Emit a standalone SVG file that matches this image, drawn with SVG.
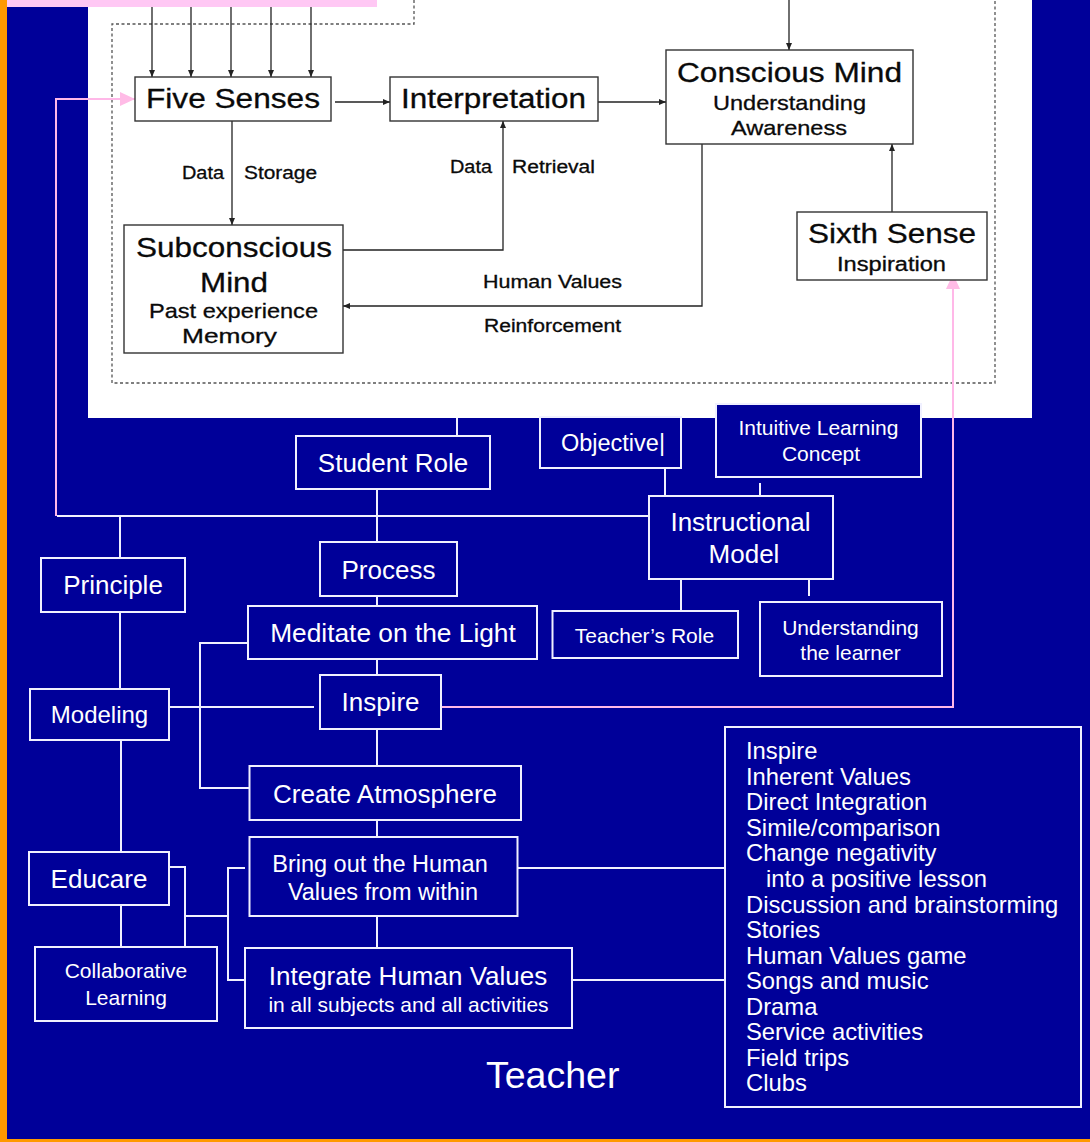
<svg xmlns="http://www.w3.org/2000/svg" width="1090" height="1142" viewBox="0 0 1090 1142">
<style>
.wbox{fill:#000099;stroke:#f0f0ff;stroke-width:2}
.wl{stroke:#f0f0ff;stroke-width:2;fill:none}
.pl{stroke:#ffb8e8;stroke-width:2;fill:none}
.bbox{fill:#fff;stroke:#333;stroke-width:1.4}
.bl{stroke:#222;stroke-width:1.3;fill:none}
.dash{stroke:#555;stroke-width:1.3;stroke-dasharray:3 2.5;fill:none}
.tw{fill:#fff;font-family:'Liberation Sans',Arial,sans-serif;text-anchor:middle}
.tb{fill:#0a0a0a;stroke:#0a0a0a;stroke-width:0.3;font-family:'Liberation Sans',Arial,sans-serif;text-anchor:middle}
.tl{fill:#fff;font-family:'Liberation Sans',Arial,sans-serif;font-size:23.8px}
</style>
<defs>
<marker id="ah" viewBox="0 0 7 6" refX="7" refY="3" markerWidth="7" markerHeight="6" markerUnits="userSpaceOnUse" orient="auto"><path d="M0,0 L7,3 L0,6 z" fill="#222"/></marker>
<marker id="ahp" viewBox="0 0 15 14" refX="15" refY="7" markerWidth="15" markerHeight="14" markerUnits="userSpaceOnUse" orient="auto"><path d="M0,0 L15,7 L0,14 z" fill="#ffbbe6"/></marker>
</defs>
<rect x="0" y="0" width="1090" height="1142" fill="#000099"/>
<rect x="0" y="0" width="7" height="1142" fill="#ff9900"/>
<rect x="0" y="1139" width="1090" height="3" fill="#ff9900"/>
<rect x="88" y="0" width="944" height="418" fill="#ffffff"/>
<path class="dash" d="M414,0 V24 H112 V383 H995 V0"/>

<g id="connectors">
<path class="bl" d="M152,0 V77" marker-end="url(#ah)"/>
<path class="bl" d="M191,0 V77" marker-end="url(#ah)"/>
<path class="bl" d="M231,0 V77" marker-end="url(#ah)"/>
<path class="bl" d="M271,0 V77" marker-end="url(#ah)"/>
<path class="bl" d="M311,0 V77" marker-end="url(#ah)"/>
<path class="bl" d="M789,0 V50" marker-end="url(#ah)"/>
<path class="bl" d="M335,102 H390" marker-end="url(#ah)"/>
<path class="bl" d="M598,102 H666" marker-end="url(#ah)"/>
<path class="bl" d="M232,121 V225" marker-end="url(#ah)"/>
<path class="bl" d="M343,250 H503 V121" marker-end="url(#ah)"/>
<path class="bl" d="M702,144 V306 H343" marker-end="url(#ah)"/>
<path class="bl" d="M892,212 V144" marker-end="url(#ah)"/>
<path class="pl" d="M56,516 V99 H135" marker-end="url(#ahp)"/>
<path class="pl" d="M441,707 H953 V274" marker-end="url(#ahp)"/>
<path class="wl" d="M457,418 V436"/>
<path class="wl" d="M57,516 H649"/>
<path class="wl" d="M377,489 V546"/>
<path class="wl" d="M665,468 V500"/>
<path class="wl" d="M760,483 V500"/>
<path class="wl" d="M681,579 V611"/>
<path class="wl" d="M809,579 V596"/>
<path class="wl" d="M120,516 V689"/>
<path class="wl" d="M377,596 V610"/>
<path class="wl" d="M377,659 V675"/>
<path class="wl" d="M169,707 H314"/>
<path class="wl" d="M248,643 H200 V788 H249"/>
<path class="wl" d="M377,723 V772"/>
<path class="wl" d="M377,820 V837"/>
<path class="wl" d="M377,916 V948"/>
<path class="wl" d="M121,740 V852"/>
<path class="wl" d="M121,899 V947"/>
<path class="wl" d="M169,867 H185 V947"/>
<path class="wl" d="M185,916 H228"/>
<path class="wl" d="M245,868 H228 V980 H245"/>
<path class="wl" d="M517,868 H725"/>
<path class="wl" d="M565,980 H725"/>
</g>

<rect x="7" y="0" width="370" height="7" fill="#ffc8f4"/>

<g id="five-senses"><rect class="bbox" x="135" y="77" width="196" height="44"/><text class="tb" x="233" y="108" font-size="27" textLength="174" lengthAdjust="spacingAndGlyphs">Five Senses</text></g>
<g id="interpretation"><rect class="bbox" x="390" y="77" width="208" height="44"/><text class="tb" x="493.5" y="108" font-size="27" textLength="185" lengthAdjust="spacingAndGlyphs">Interpretation</text></g>
<g id="conscious-mind"><rect class="bbox" x="666" y="50" width="247" height="94"/><text class="tb" x="789.5" y="82" font-size="27" textLength="225" lengthAdjust="spacingAndGlyphs">Conscious Mind</text><text class="tb" x="789.5" y="110" font-size="21" textLength="153" lengthAdjust="spacingAndGlyphs">Understanding</text><text class="tb" x="789" y="135" font-size="21" textLength="116" lengthAdjust="spacingAndGlyphs">Awareness</text></g>
<g id="subconscious-mind"><rect class="bbox" x="124" y="225" width="219" height="128"/><text class="tb" x="234" y="257" font-size="28" textLength="196" lengthAdjust="spacingAndGlyphs">Subconscious</text><text class="tb" x="234" y="292" font-size="28" textLength="68" lengthAdjust="spacingAndGlyphs">Mind</text><text class="tb" x="233.5" y="318" font-size="21" textLength="169" lengthAdjust="spacingAndGlyphs">Past experience</text><text class="tb" x="229.5" y="343" font-size="21" textLength="95" lengthAdjust="spacingAndGlyphs">Memory</text></g>
<g id="sixth-sense"><rect class="bbox" x="797" y="212" width="190" height="68"/><text class="tb" x="892" y="243" font-size="27" textLength="168" lengthAdjust="spacingAndGlyphs">Sixth Sense</text><text class="tb" x="891.5" y="271" font-size="20" textLength="109" lengthAdjust="spacingAndGlyphs">Inspiration</text></g>
<g id="labels">
<text class="tb" x="203" y="179" font-size="17.5" textLength="42" lengthAdjust="spacingAndGlyphs">Data</text>
<text class="tb" x="280.5" y="179" font-size="17.5" textLength="73" lengthAdjust="spacingAndGlyphs">Storage</text>
<text class="tb" x="471" y="173" font-size="17.5" textLength="42" lengthAdjust="spacingAndGlyphs">Data</text>
<text class="tb" x="553.5" y="173" font-size="17.5" textLength="83" lengthAdjust="spacingAndGlyphs">Retrieval</text>
<text class="tb" x="552.5" y="288" font-size="17.5" textLength="139" lengthAdjust="spacingAndGlyphs">Human Values</text>
<text class="tb" x="552.5" y="332" font-size="17.5" textLength="137" lengthAdjust="spacingAndGlyphs">Reinforcement</text>
</g>

<g id="student-role"><rect class="wbox" x="296" y="436" width="194" height="53"/><text class="tw" x="393" y="472" font-size="26">Student Role</text></g>
<g id="objective"><rect class="wbox" x="540" y="417" width="141" height="51"/><text class="tw" x="613" y="451" font-size="23.5">Objective|</text></g>
<g id="intuitive-learning"><rect class="wbox" x="716" y="404" width="205" height="73"/><text class="tw" x="818.5" y="435" font-size="21">Intuitive Learning</text><text class="tw" x="821" y="461" font-size="21">Concept</text></g>
<g id="instructional-model"><rect class="wbox" x="649" y="496" width="184" height="83"/><text class="tw" x="740.5" y="531" font-size="26">Instructional</text><text class="tw" x="744" y="563" font-size="26">Model</text></g>
<g id="process"><rect class="wbox" x="320" y="542" width="137" height="54"/><text class="tw" x="388.5" y="579" font-size="26">Process</text></g>
<g id="principle"><rect class="wbox" x="41" y="558" width="144" height="54"/><text class="tw" x="113" y="594" font-size="26">Principle</text></g>
<g id="meditate"><rect class="wbox" x="248" y="606" width="289" height="53"/><text class="tw" x="393" y="642" font-size="26.3">Meditate on the Light</text></g>
<g id="teachers-role"><rect class="wbox" x="552.5" y="611" width="185.5" height="47"/><text class="tw" x="644.5" y="643" font-size="21">Teacher’s Role</text></g>
<g id="understanding-learner"><rect class="wbox" x="760" y="602" width="182" height="74"/><text class="tw" x="850.5" y="635" font-size="21">Understanding</text><text class="tw" x="850.5" y="660" font-size="21">the learner</text></g>
<g id="modeling"><rect class="wbox" x="30" y="689" width="139" height="51"/><text class="tw" x="99.5" y="723" font-size="24">Modeling</text></g>
<g id="inspire"><rect class="wbox" x="320" y="675" width="121" height="54"/><text class="tw" x="380.5" y="711" font-size="26">Inspire</text></g>
<g id="create-atmosphere"><rect class="wbox" x="249.5" y="766" width="271.5" height="54"/><text class="tw" x="385" y="803" font-size="26">Create Atmosphere</text></g>
<g id="bring-out"><rect class="wbox" x="249.5" y="837" width="268" height="79"/><text class="tw" x="380" y="872" font-size="23.5">Bring out the Human</text><text class="tw" x="383" y="900" font-size="23.5">Values from within</text></g>
<g id="educare"><rect class="wbox" x="29" y="852" width="140" height="53"/><text class="tw" x="99" y="888" font-size="26">Educare</text></g>
<g id="collaborative-learning"><rect class="wbox" x="35" y="947" width="182" height="74"/><text class="tw" x="126" y="978" font-size="21">Collaborative</text><text class="tw" x="126" y="1005" font-size="21">Learning</text></g>
<g id="integrate"><rect class="wbox" x="245" y="948" width="327" height="80"/><text class="tw" x="408" y="985" font-size="26">Integrate Human Values</text><text class="tw" x="408.5" y="1012" font-size="21">in all subjects and all activities</text></g>
<g id="methods-list"><rect class="wbox" x="725" y="727" width="356" height="380"/>
<text class="tl" x="746" y="759">Inspire</text>
<text class="tl" x="746" y="784.5">Inherent Values</text>
<text class="tl" x="746" y="810">Direct Integration</text>
<text class="tl" x="746" y="835.5">Simile/comparison</text>
<text class="tl" x="746" y="861">Change negativity</text>
<text class="tl" x="766" y="887">into a positive lesson</text>
<text class="tl" x="746" y="912.5">Discussion and brainstorming</text>
<text class="tl" x="746" y="938">Stories</text>
<text class="tl" x="746" y="963.5">Human Values game</text>
<text class="tl" x="746" y="989">Songs and music</text>
<text class="tl" x="746" y="1014.5">Drama</text>
<text class="tl" x="746" y="1040">Service activities</text>
<text class="tl" x="746" y="1065.5">Field trips</text>
<text class="tl" x="746" y="1091">Clubs</text>
</g>
<g id="teacher-title"><text x="486" y="1088" font-size="37.5" fill="#fff" font-family="'Liberation Sans',Arial,sans-serif">Teacher</text></g>
</svg>
